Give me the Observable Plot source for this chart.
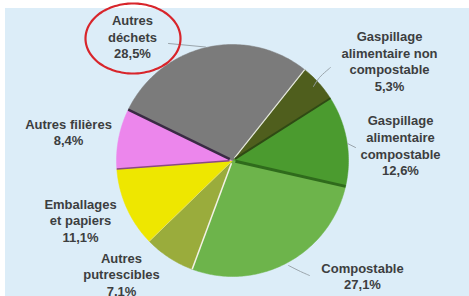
<!DOCTYPE html>
<html>
<head>
<meta charset="utf-8">
<script src="https://cdn.jsdelivr.net/npm/d3@7"></script>
<script src="https://cdn.jsdelivr.net/npm/@observablehq/plot@0.6"></script>
<style>
  html, body { margin: 0; padding: 0; background: #ffffff; }
  #wrap { position: relative; width: 469px; height: 296px; overflow: hidden; }
  #panel { position: absolute; left: 5px; top: 8px; right: 0; bottom: 0; background: #dcedf8; }
  #chart { position: absolute; left: 0; top: 0; }
</style>
</head>
<body>
<div id="wrap"><div id="panel"></div><div id="chart"></div></div>
<script>
// ---- data ----
const categories = [
  "Gaspillage alimentaire non compostable",
  "Gaspillage alimentaire compostable",
  "Compostable",
  "Autres putrescibles",
  "Emballages et papiers",
  "Autres filières",
  "Autres déchets"
];
const values = [5.3, 12.6, 27.1, 7.1, 11.1, 8.4, 28.5];
const labels = [
  "Gaspillage\nalimentaire non\ncompostable\n5,3%",
  "Gaspillage\nalimentaire\ncompostable\n12,6%",
  "Compostable\n27,1%",
  "Autres\nputrescibles\n7,1%",
  "Emballages\net papiers\n11,1%",
  "Autres filières\n8,4%",
  "Autres\ndéchets\n28,5%"
];

// ---- styles / layout ----
const colors = ["#4f5e1d", "#4b9b2f", "#6db44b", "#9aac3c", "#eee700", "#ec86ec", "#7b7b7b"];
const edgeColors = ["#e6eadc", "#2f4a14", "#2f6b1c", "#f2f2e6", "#dedc70", "#8a4a80", "#3a2a44"];
const edgeWidths = [1.2, 2, 3, 1.5, 1, 1.5, 2.5];
const labelX = [389, 400, 362, 121, 80, 68, 132];
const labelY = [60, 144.5, 275, 273.5, 219.5, 131, 36];
const W = 469, H = 296, CX = 232, CY = 160, R = 116;
const startDeg = 38.5;

// pie geometry from data
const arcs = d3.pie().sort(null)
  .startAngle(startDeg * Math.PI / 180)
  .endAngle(startDeg * Math.PI / 180 + 2 * Math.PI)(values);

const pt = (a, r) => [CX + r * Math.sin(a), CY - r * Math.cos(a)];
const slicePts = [];
arcs.forEach((arc, i) => {
  const n = Math.max(4, Math.ceil((arc.endAngle - arc.startAngle) / (Math.PI / 180)));
  slicePts.push({name: categories[i], color: colors[i], x: CX, y: CY});
  for (let k = 0; k <= n; k++) {
    const a = arc.startAngle + (arc.endAngle - arc.startAngle) * k / n;
    const [x, y] = pt(a, R);
    slicePts.push({name: categories[i], color: colors[i], x, y});
  }
  slicePts.push({name: categories[i], color: colors[i], x: CX, y: CY});
});

const edges = arcs.map((arc, i) => {
  const [x1, y1] = pt(arc.startAngle, 3);
  const [x2, y2] = pt(arc.startAngle, R);
  return {x1, y1, x2, y2, color: edgeColors[i], w: edgeWidths[i]};
});

const labelRows = categories.map((c, i) => ({name: c, text: labels[i], x: labelX[i], y: labelY[i]}));

// leader lines (layout)
const leaders = [
  [[168, 43], [205, 46.5]],
  [[330, 67], [319, 77], [313, 86]],
  [[347, 143], [355, 147]],
  [[288, 265], [300, 271], [309, 275]]
];
const leaderPts = leaders.flatMap((l, j) => l.map(([x, y]) => ({j, x, y})));

// highlight ellipse (layout)
const ell = d3.range(0, 361, 4).map(d => {
  const a = d * Math.PI / 180;
  return {x: 132.5 + 47.5 * Math.cos(a), y: 38 + 35 * Math.sin(a)};
});

const chart = Plot.plot({
  width: W, height: H,
  margin: 0,
  style: {background: "transparent"},
  x: {domain: [0, W], range: [0, W], axis: null},
  y: {domain: [0, H], range: [0, H], axis: null},
  color: {type: "identity"},
  marks: [
    Plot.line(slicePts, {x: "x", y: "y", z: "name", fill: "color", stroke: "color", strokeWidth: 0.5, curve: "linear"}),
    Plot.link(edges, {x1: "x1", y1: "y1", x2: "x2", y2: "y2", stroke: "color", strokeWidth: "w"}),
    Plot.line(leaderPts, {x: "x", y: "y", z: "j", stroke: "#9aa4ab", strokeWidth: 1, curve: "catmull-rom"}),
    Plot.line(ell, {x: "x", y: "y", stroke: "#d8252b", strokeWidth: 2.2, curve: "catmull-rom-closed"}),
    Plot.text(labelRows, {
      x: "x", y: "y", text: "text",
      textAnchor: "middle", lineAnchor: "middle", lineHeight: 1.28,
      fontSize: 13, fontWeight: "bold", fill: "#3c3e40",
      fontFamily: "Liberation Sans, Arial, sans-serif"
    })
  ]
});
// strokeWidth channel for links
document.getElementById("chart").appendChild(chart);
</script>
</body>
</html>
